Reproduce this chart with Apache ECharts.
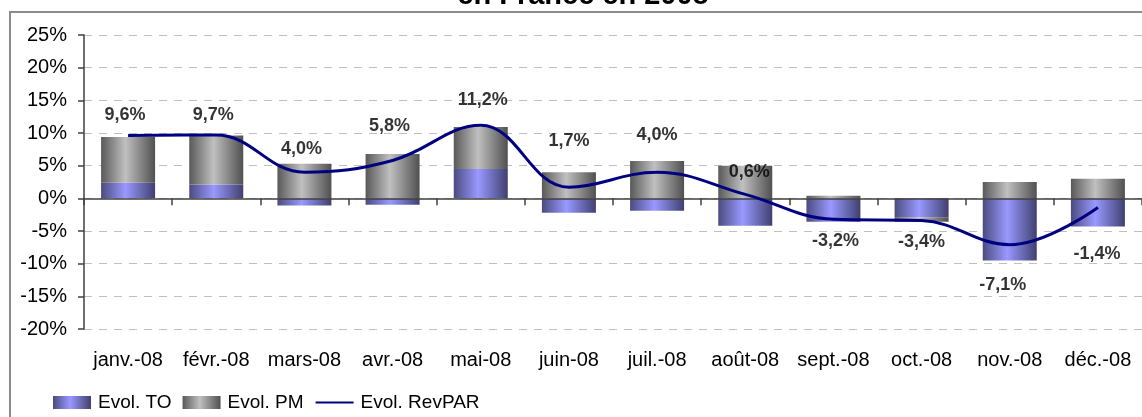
<!DOCTYPE html>
<html>
<head>
<meta charset="utf-8">
<script src="https://cdn.jsdelivr.net/npm/echarts@6/dist/echarts.min.js"></script>
<style>
html,body{margin:0;padding:0;background:#fff;}
#chart{width:1142px;height:417px;}
</style>
</head>
<body>
<div id="chart"></div>
<script>
// ---- data ----
const months = ['janv.-08', 'févr.-08', 'mars-08', 'avr.-08', 'mai-08', 'juin-08', 'juil.-08', 'août-08', 'sept.-08', 'oct.-08', 'nov.-08', 'déc.-08'];
const evolTO = [2.4, 2.1, -1.1, -1.0, 4.5, -2.2, -1.9, -4.2, -3.6, -2.9, -9.5, -4.3];
const evolPM = [7.0, 7.5, 5.3, 6.8, 6.4, 4.0, 5.7, 5.0, 0.4, -0.7, 2.5, 3.0];
const evolRevPAR = [9.6, 9.7, 4.0, 5.8, 11.2, 1.7, 4.0, 0.6, -3.2, -3.4, -7.1, -1.4];
const yMin = -20, yMax = 25, yStep = 5;
const titleText = 'en France en 2008';
const seriesNames = ['Evol. TO', 'Evol. PM', 'Evol. RevPAR'];

// ---- layout (label placement, in px) ----
const labelDx = [-3, -3, -3, -3, 2, 0, 0, 4, 2, 0, -7, -1];
const labelDy = [-21, -20, -23, -34, -25, -46, -37, -22, 22, 21, 40, 47];

const FONT = 'Liberation Sans, Arial, Helvetica, sans-serif';
const fmt = v => v.toFixed(1).replace('.', ',') + '%';

const gradTO = new echarts.graphic.LinearGradient(0, 0, 1, 0, [
  {offset: 0, color: '#4b4b80'},
  {offset: 0.45, color: '#9999ff'},
  {offset: 1, color: '#404070'}
]);
const gradPM = new echarts.graphic.LinearGradient(0, 0, 1, 0, [
  {offset: 0, color: '#595959'},
  {offset: 0.45, color: '#c0c0c0'},
  {offset: 1, color: '#505050'}
]);

const chart = echarts.init(document.getElementById('chart'), null, {renderer: 'canvas'});
chart.setOption({
  animation: false,
  backgroundColor: '#fff',
  textStyle: {fontFamily: FONT},
  graphic: [
    {type: 'rect', z: -10, shape: {x: 10, y: 12, width: 1300, height: 600},
     style: {fill: 'none', stroke: '#8c8c8c', lineWidth: 2}},
    {type: 'text', z: 10, x: 583, y: 10,
     style: {text: titleText, font: 'bold 29px ' + FONT, fill: '#000', textAlign: 'center', textVerticalAlign: 'bottom'}}
  ],
  grid: {left: 84, top: 35, height: 294, width: 1067, containLabel: false},
  legend: {
    left: 53, top: 393, padding: 0,
    itemWidth: 38, itemHeight: 13, itemGap: 11,
    textStyle: {fontSize: 19, color: '#000', fontFamily: FONT, padding: [0, 0, 0, 2]},
    data: [
      {name: seriesNames[0], icon: 'rect'},
      {name: seriesNames[1], icon: 'rect'},
      {name: seriesNames[2], itemStyle: {opacity: 0}}
    ]
  },
  xAxis: [
    {
      type: 'category', data: months, position: 'bottom', z: 5,
      axisLine: {show: true, onZero: true, lineStyle: {color: '#404040', width: 1.5}},
      axisTick: {show: true, interval: 0, length: 7, lineStyle: {color: '#404040', width: 1.5}},
      axisLabel: {show: false},
      splitLine: {show: false}
    },
    {
      type: 'category', data: months, position: 'bottom',
      axisLine: {show: false, onZero: false},
      axisTick: {show: false},
      axisLabel: {show: true, interval: 0, fontSize: 20, color: '#000', margin: 21, fontFamily: FONT},
      splitLine: {show: false}
    }
  ],
  yAxis: {
    type: 'value', min: yMin, max: yMax, interval: yStep,
    axisLine: {show: true, lineStyle: {color: '#404040', width: 1.5}},
    axisTick: {show: true, length: 6, lineStyle: {color: '#404040', width: 1.5}},
    axisLabel: {fontSize: 20, color: '#000', margin: 17, formatter: v => v + '%', fontFamily: FONT},
    splitLine: {show: true, lineStyle: {color: '#c0c0c0', type: [8, 7], width: 1}}
  },
  series: [
    {
      name: seriesNames[0], type: 'bar', stack: 'evol', xAxisIndex: 0,
      barWidth: 54, data: evolTO,
      itemStyle: {color: gradTO}
    },
    {
      name: seriesNames[1], type: 'bar', stack: 'evol', xAxisIndex: 0,
      barWidth: 54, data: evolPM,
      itemStyle: {color: gradPM}
    },
    {
      name: seriesNames[2], type: 'line', xAxisIndex: 0, smooth: 0.4,
      symbol: 'none', data: evolRevPAR, z: 6,
      lineStyle: {color: '#000080', width: 3},
      itemStyle: {color: '#000080'}
    },
    {
      name: 'labels', type: 'scatter', xAxisIndex: 0, symbolSize: 1, z: 7,
      itemStyle: {color: 'rgba(0,0,0,0)'},
      data: evolRevPAR.map((v, i) => ({
        value: v,
        label: {offset: [labelDx[i], labelDy[i]]}
      })),
      label: {
        show: true, position: 'inside',
        formatter: p => fmt(p.value),
        fontSize: 18, fontWeight: 'bold', color: '#000', fontFamily: FONT
      },
      emphasis: {disabled: true},
      silent: true
    }
  ]
});
</script>
</body>
</html>
